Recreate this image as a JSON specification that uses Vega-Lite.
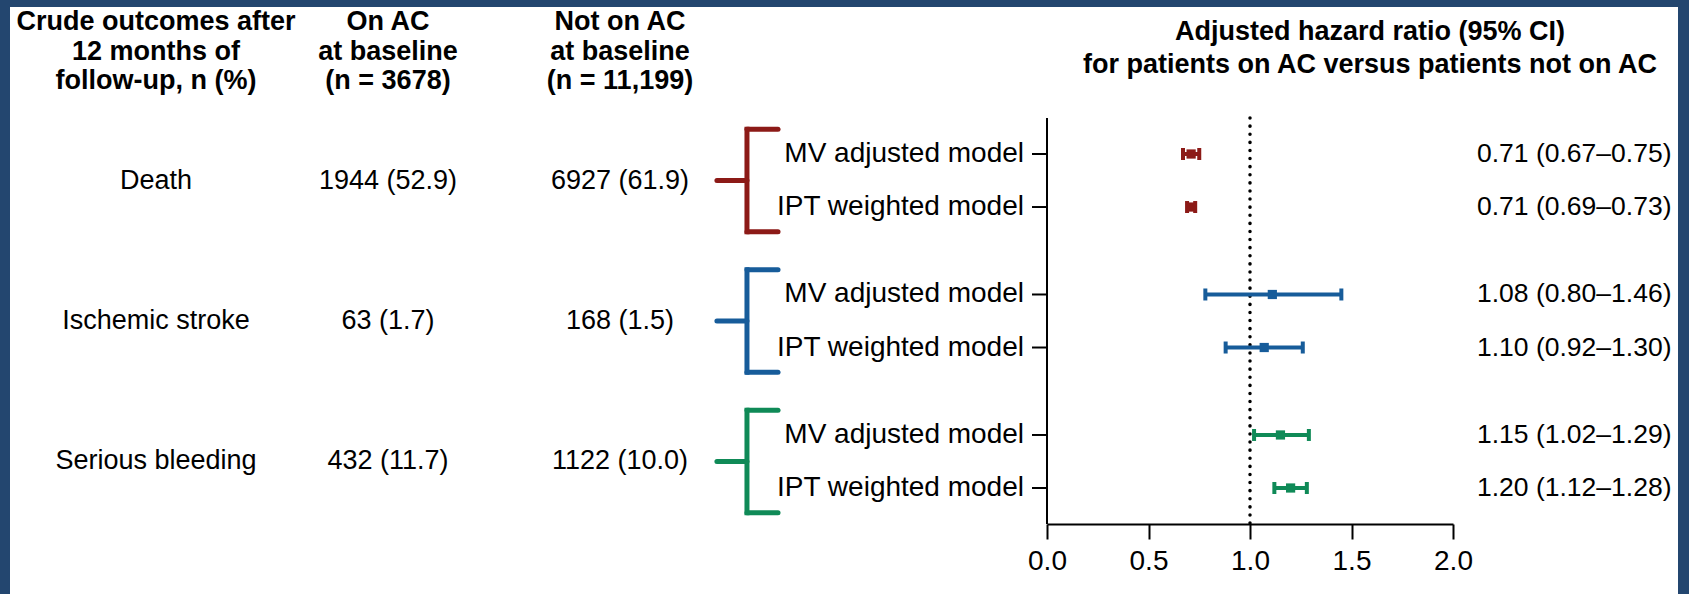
{
  "$schema": "https://vega.github.io/schema/vega-lite/v6.json",
  "width": 1668,
  "height": 587,
  "autosize": {"type": "none"},
  "padding": {"left": 10, "top": 7, "right": 11, "bottom": 0},
  "background": "#23466f",
  "config": {
    "view": {"fill": "white", "stroke": null},
    "text": {"font": "Liberation Sans", "color": "black"}
  },
  "datasets": {
    "models": [
      {"group": "Death", "model": "MV adjusted model", "hr": 0.71, "lo": 0.67, "hi": 0.75, "label": "0.71 (0.67–0.75)"},
      {"group": "Death", "model": "IPT weighted model", "hr": 0.71, "lo": 0.69, "hi": 0.73, "label": "0.71 (0.69–0.73)"},
      {"group": "Ischemic stroke", "model": "MV adjusted model", "hr": 1.11, "lo": 0.78, "hi": 1.45, "label": "1.08 (0.80–1.46)"},
      {"group": "Ischemic stroke", "model": "IPT weighted model", "hr": 1.07, "lo": 0.88, "hi": 1.26, "label": "1.10 (0.92–1.30)"},
      {"group": "Serious bleeding", "model": "MV adjusted model", "hr": 1.15, "lo": 1.02, "hi": 1.29, "label": "1.15 (1.02–1.29)"},
      {"group": "Serious bleeding", "model": "IPT weighted model", "hr": 1.20, "lo": 1.12, "hi": 1.28, "label": "1.20 (1.12–1.28)"}
    ],
    "cells": [
      {"group": "Death", "column": "Outcome", "text": "Death"},
      {"group": "Death", "column": "On AC", "text": "1944 (52.9)"},
      {"group": "Death", "column": "Not on AC", "text": "6927 (61.9)"},
      {"group": "Ischemic stroke", "column": "Outcome", "text": "Ischemic stroke"},
      {"group": "Ischemic stroke", "column": "On AC", "text": "63 (1.7)"},
      {"group": "Ischemic stroke", "column": "Not on AC", "text": "168 (1.5)"},
      {"group": "Serious bleeding", "column": "Outcome", "text": "Serious bleeding"},
      {"group": "Serious bleeding", "column": "On AC", "text": "432 (11.7)"},
      {"group": "Serious bleeding", "column": "Not on AC", "text": "1122 (10.0)"}
    ],
    "headers": [
      {"column": "Outcome", "line": 1, "text": "Crude outcomes after"},
      {"column": "Outcome", "line": 2, "text": "12 months of"},
      {"column": "Outcome", "line": 3, "text": "follow-up, n (%)"},
      {"column": "On AC", "line": 1, "text": "On AC"},
      {"column": "On AC", "line": 2, "text": "at baseline"},
      {"column": "On AC", "line": 3, "text": "(n = 3678)"},
      {"column": "Not on AC", "line": 1, "text": "Not on AC"},
      {"column": "Not on AC", "line": 2, "text": "at baseline"},
      {"column": "Not on AC", "line": 3, "text": "(n = 11,199)"},
      {"column": "HR", "line": 1, "text": "Adjusted hazard ratio (95% CI)"},
      {"column": "HR", "line": 2, "text": "for patients on AC versus patients not on AC"}
    ]
  },
  "resolve": {"scale": {"x": "independent", "y": "independent"}},
  "layer": [
    {
      "data": {"name": "cells"},
      "mark": {"type": "text", "fontSize": 27, "baseline": "middle", "align": "center"},
      "encoding": {
        "x": {"field": "column", "type": "nominal", "scale": {"type": "point", "domain": ["Outcome", "On AC", "Not on AC"], "range": [146, 610], "padding": 0}, "axis": null},
        "y": {"field": "group", "type": "nominal", "scale": {"type": "band", "domain": ["Death", "Ischemic stroke", "Serious bleeding"], "range": [111, 517], "paddingInner": 0.11, "paddingOuter": 0}, "axis": null},
        "text": {"field": "text"}
      }
    },
    {
      "data": {"name": "headers"},
      "transform": [{"filter": "datum.column !== 'HR'"}],
      "mark": {"type": "text", "fontWeight": "bold", "fontSize": 27, "baseline": "middle", "align": "center"},
      "encoding": {
        "x": {"field": "column", "type": "nominal", "scale": {"type": "point", "domain": ["Outcome", "On AC", "Not on AC"], "range": [146, 610], "padding": 0}, "axis": null},
        "y": {"field": "line", "type": "ordinal", "scale": {"type": "point", "domain": [1, 2, 3], "range": [15, 74], "padding": 0}, "axis": null},
        "text": {"field": "text"}
      }
    },
    {
      "data": {"name": "headers"},
      "transform": [{"filter": "datum.column === 'HR'"}],
      "mark": {"type": "text", "fontWeight": "bold", "fontSize": 27, "baseline": "middle", "align": "center"},
      "encoding": {
        "x": {"datum": 1.591, "type": "quantitative", "scale": {"domain": [0, 2], "range": [1037, 1443]}, "axis": null},
        "y": {"field": "line", "type": "ordinal", "scale": {"type": "point", "domain": [1, 2], "range": [25, 58], "padding": 0}, "axis": null},
        "text": {"field": "text"}
      }
    },
    {
      "data": {"name": "models"},
      "mark": {"type": "point", "shape": "square", "filled": true, "size": 85, "opacity": 1},
      "encoding": {
        "x": {"field": "hr", "type": "quantitative", "scale": {"domain": [0, 2], "range": [1037, 1443]}, "axis": {"orient": "bottom", "values": [0, 0.5, 1, 1.5, 2], "format": ".1f", "title": null, "offset": -70, "grid": false, "domain": true, "ticks": true, "labels": true, "domainColor": "black", "domainWidth": 2, "tickColor": "black", "tickWidth": 2, "tickSize": 15, "labelFont": "Liberation Sans", "labelFontSize": 28, "labelColor": "black", "labelPadding": 8, "labelFlush": false, "labelOverlap": false, "zindex": 1}},
        "y": {"field": "group", "type": "nominal", "scale": {"type": "band", "domain": ["Death", "Ischemic stroke", "Serious bleeding"], "range": [111, 517], "paddingInner": 0.11, "paddingOuter": 0}, "axis": null},
        "yOffset": {"field": "model", "type": "nominal", "scale": {"type": "point", "domain": ["MV adjusted model", "IPT weighted model"], "padding": 0.679}},
        "color": {"field": "group", "type": "nominal", "scale": {"domain": ["Death", "Ischemic stroke", "Serious bleeding"], "range": ["#8c1a17", "#175c9a", "#0f8a57"]}, "legend": null}
      }
    },
    {
      "data": {"name": "models"},
      "layer": [
        {
          "data": {"values": [{}]},
          "mark": {"type": "rule", "strokeWidth": 2, "color": "black"},
          "encoding": {
            "x": {"datum": 0, "type": "quantitative", "scale": {"domain": [0, 2], "range": [1037, 1443]}, "axis": null},
            "y": {"datum": "Death", "type": "nominal", "bandPosition": 0, "scale": {"type": "band", "domain": ["Death", "Ischemic stroke", "Serious bleeding"], "range": [111, 517], "paddingInner": 0.11, "paddingOuter": 0}, "axis": null},
            "y2": {"datum": "Serious bleeding", "bandPosition": 1}
          }
        },
        {
          "data": {"values": [{}]},
          "mark": {"type": "rule", "strokeWidth": 3.5, "color": "black", "strokeDash": [0.1, 8], "strokeCap": "round"},
          "encoding": {
            "x": {"datum": 1, "type": "quantitative", "axis": null},
            "y": {"datum": "Death", "type": "nominal", "bandPosition": 0, "axis": null},
            "y2": {"datum": "Serious bleeding", "bandPosition": 1}
          }
        },
        {
          "mark": {"type": "rule", "strokeWidth": 2, "color": "black", "x2Offset": -15},
          "encoding": {
            "x": {"datum": 0, "type": "quantitative", "axis": null},
            "x2": {"datum": 0},
            "y": {"field": "group", "type": "nominal", "axis": null},
            "yOffset": {"field": "model", "type": "nominal", "scale": {"type": "point", "domain": ["MV adjusted model", "IPT weighted model"], "padding": 0.679}}
          }
        },
        {
          "mark": {"type": "text", "fontSize": 28, "align": "right", "baseline": "middle", "dx": -23},
          "encoding": {
            "x": {"datum": 0, "type": "quantitative", "axis": null},
            "y": {"field": "group", "type": "nominal", "axis": null},
            "yOffset": {"field": "model", "type": "nominal"},
            "text": {"field": "model"}
          }
        },
        {
          "mark": {"type": "rule", "strokeWidth": 4},
          "encoding": {
            "x": {"field": "lo", "type": "quantitative", "axis": null},
            "x2": {"field": "hi"},
            "y": {"field": "group", "type": "nominal", "axis": null},
            "yOffset": {"field": "model", "type": "nominal"},
            "color": {"field": "group", "type": "nominal", "scale": {"domain": ["Death", "Ischemic stroke", "Serious bleeding"], "range": ["#8c1a17", "#175c9a", "#0f8a57"]}, "legend": null}
          }
        },
        {
          "mark": {"type": "tick", "size": 12, "thickness": 4, "opacity": 1},
          "encoding": {
            "x": {"field": "lo", "type": "quantitative", "axis": null},
            "y": {"field": "group", "type": "nominal", "axis": null},
            "yOffset": {"field": "model", "type": "nominal"},
            "color": {"field": "group", "type": "nominal", "legend": null}
          }
        },
        {
          "mark": {"type": "tick", "size": 12, "thickness": 4, "opacity": 1},
          "encoding": {
            "x": {"field": "hi", "type": "quantitative", "axis": null},
            "y": {"field": "group", "type": "nominal", "axis": null},
            "yOffset": {"field": "model", "type": "nominal"},
            "color": {"field": "group", "type": "nominal", "legend": null}
          }
        },
        {
          "mark": {"type": "text", "fontSize": 26.5, "align": "left", "baseline": "middle", "dx": 24},
          "encoding": {
            "x": {"datum": 2, "type": "quantitative", "axis": null},
            "y": {"field": "group", "type": "nominal", "axis": null},
            "yOffset": {"field": "model", "type": "nominal"},
            "text": {"field": "label"}
          }
        },
        {
          "data": {"name": "cells"},
          "transform": [{"filter": "datum.column === 'Outcome'"}],
          "layer": [
            {
              "mark": {"type": "rule", "strokeWidth": 5, "strokeCap": "square"},
              "encoding": {
                "x": {"datum": -1.478, "type": "quantitative", "axis": null},
                "y": {"field": "group", "type": "nominal", "bandPosition": 0.09, "axis": null},
                "y2": {"field": "group", "bandPosition": 0.91},
                "color": {"field": "group", "type": "nominal", "legend": null}
              }
            },
            {
              "mark": {"type": "rule", "strokeWidth": 5, "strokeCap": "round"},
              "encoding": {
                "x": {"datum": -1.478, "type": "quantitative", "axis": null},
                "x2": {"datum": -1.325},
                "y": {"field": "group", "type": "nominal", "bandPosition": 0.09, "axis": null},
                "color": {"field": "group", "type": "nominal", "legend": null}
              }
            },
            {
              "mark": {"type": "rule", "strokeWidth": 5, "strokeCap": "round"},
              "encoding": {
                "x": {"datum": -1.478, "type": "quantitative", "axis": null},
                "x2": {"datum": -1.325},
                "y": {"field": "group", "type": "nominal", "bandPosition": 0.91, "axis": null},
                "color": {"field": "group", "type": "nominal", "legend": null}
              }
            },
            {
              "mark": {"type": "rule", "strokeWidth": 5, "strokeCap": "round"},
              "encoding": {
                "x": {"datum": -1.626, "type": "quantitative", "axis": null},
                "x2": {"datum": -1.478},
                "y": {"field": "group", "type": "nominal", "bandPosition": 0.5, "axis": null},
                "color": {"field": "group", "type": "nominal", "legend": null}
              }
            }
          ]
        }
      ]
    }
  ]
}
